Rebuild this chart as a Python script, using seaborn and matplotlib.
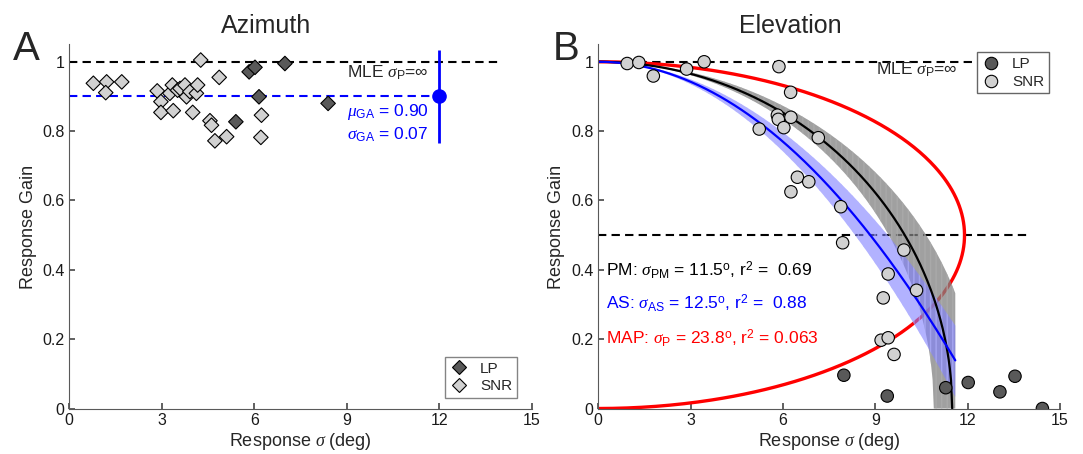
import numpy as np
import pandas as pd
import matplotlib
matplotlib.use("Agg")
import matplotlib.pyplot as plt
import seaborn as sns

# Azimuth data (response sigma in deg, response gain)
az_lp_x = [5.83, 6.02, 6.99, 6.15, 5.40, 8.39]
az_lp_y = [0.971, 0.984, 0.995, 0.899, 0.827, 0.880]
az_snr_x = [0.78, 1.21, 1.18, 1.70, 2.85, 2.97, 2.97, 3.26, 3.34, 3.37, 3.51, 3.59,
            3.75, 3.80, 3.91, 4.00, 4.12, 4.16, 4.26, 4.56, 4.61, 4.72, 4.86, 5.10,
            6.23, 6.21]
az_snr_y = [0.938, 0.942, 0.911, 0.942, 0.916, 0.885, 0.854, 0.909, 0.933, 0.859, 0.918, 0.923,
            0.933, 0.899, 0.914, 0.854, 0.909, 0.933, 1.005, 0.830, 0.817, 0.772, 0.955, 0.784,
            0.846, 0.782]
az_mean = 0.90
az_err = 0.135
az_mean_x = 12.0

# Elevation data
el_lp_x = [7.98, 9.39, 11.29, 12.02, 13.05, 13.54, 14.43]
el_lp_y = [0.096, 0.036, 0.060, 0.075, 0.048, 0.093, 0.0]
el_snr_x = [0.94, 1.32, 1.79, 2.87, 3.44, 5.87, 6.25, 5.82, 5.85, 6.26, 6.03, 5.23,
            7.15, 6.47, 6.84, 6.26, 7.88, 7.94, 9.93, 9.42, 10.34, 9.26, 9.19, 9.42, 9.61]
el_snr_y = [0.995, 0.998, 0.959, 0.979, 1.0, 0.986, 0.912, 0.846, 0.834, 0.840, 0.810, 0.806,
            0.781, 0.667, 0.654, 0.625, 0.582, 0.478, 0.457, 0.388, 0.341, 0.319, 0.197, 0.204, 0.156]

# model fit parameters (deg)
sig_pm, sig_pm_lo, sig_pm_hi = 11.5, 10.9, 12.3
sig_as, sig_as_lo, sig_as_hi = 12.5, 11.8, 13.3
sig_p = 23.8
band_end = 11.6

sns.set_theme(style="ticks")
plt.rcParams['font.family'] = ['Liberation Sans', 'DejaVu Sans']
plt.rcParams['mathtext.fontset'] = 'custom'
plt.rcParams['mathtext.rm'] = 'Liberation Sans'
plt.rcParams['mathtext.it'] = 'Liberation Serif:italic'
plt.rcParams['mathtext.sf'] = 'Liberation Sans'

fig = plt.figure(figsize=(10.83, 4.54), dpi=100)
axA = fig.add_axes([0.064, 0.1002, 0.4272, 0.8019])
axB = fig.add_axes([0.5524, 0.1002, 0.4263, 0.8019])

pal = {'LP': (0.35, 0.35, 0.35), 'SNR': (0.82, 0.82, 0.82)}
dash = (4, 2.5)

# ---- panel A
dfA = pd.DataFrame({
    'x': az_lp_x + az_snr_x,
    'y': az_lp_y + az_snr_y,
    'group': ['LP'] * len(az_lp_x) + ['SNR'] * len(az_snr_x),
})
axA.plot([0, 14], [1, 1], color='black', lw=1.5, dashes=dash, zorder=1)
axA.plot([0, az_mean_x], [az_mean, az_mean], color='blue', lw=1.5, dashes=dash, zorder=1)
sns.scatterplot(data=dfA, x='x', y='y', hue='group', hue_order=['LP', 'SNR'],
                palette=pal, marker='D', s=55, edgecolor='black', linewidth=0.8,
                ax=axA, zorder=3)
axA.errorbar([az_mean_x], [az_mean], yerr=[az_err], fmt='o', color='blue',
             ms=9.5, lw=2, capsize=0, zorder=4)
axA.text(9.0, 0.969, r'MLE $\sigma_\mathrm{P}$=$\infty$', fontsize=12.5, va='center')
axA.text(9.0, 0.856, r'$\mu_\mathrm{GA}$ = 0.90', fontsize=12.5, va='center', color='blue')
axA.text(9.0, 0.789, r'$\sigma_\mathrm{GA}$ = 0.07', fontsize=12.5, va='center', color='blue')
h, l = axA.get_legend_handles_labels()
axA.legend(h, l, loc='lower right', bbox_to_anchor=(0.967, 0.029), borderaxespad=0,
           frameon=True, fancybox=False, edgecolor='0.4', fontsize=11,
           handlelength=1.2, handletextpad=0.8, borderpad=0.3, labelspacing=0.25)
axA.set_title('Azimuth', fontsize=18, x=0.425, pad=8)
fig.text(0.012, 0.868, 'A', fontsize=29)

# ---- panel B
dfB = pd.DataFrame({
    'x': el_lp_x + el_snr_x,
    'y': el_lp_y + el_snr_y,
    'group': ['LP'] * len(el_lp_x) + ['SNR'] * len(el_snr_x),
})
axB.plot([0, 14], [1, 1], color='black', lw=1.5, dashes=dash, zorder=1)
axB.plot([0, 14], [0.5, 0.5], color='black', lw=1.5, dashes=dash, zorder=1)

# MAP curve
t = np.linspace(0, np.pi, 400)
g = (1 - np.cos(t)) / 2
axB.plot(sig_p * np.sqrt(g * (1 - g)), g, color='red', lw=2.4, zorder=1.5)

xs = np.linspace(0, band_end, 300)
pm_lo = np.sqrt(np.clip(1 - (xs / sig_pm_lo) ** 2, 0, None))
pm_hi = np.sqrt(np.clip(1 - (xs / sig_pm_hi) ** 2, 0, None))
axB.fill_between(xs, pm_lo, pm_hi, facecolor=(0.5, 0.5, 0.5), alpha=0.75,
                 hatch='|||', edgecolor=(0.68, 0.68, 0.68), linewidth=0, zorder=2)
as_lo = 1 - (xs / sig_as_lo) ** 2
as_hi = 1 - (xs / sig_as_hi) ** 2
axB.fill_between(xs, as_lo, as_hi, facecolor=(0.5, 0.5, 1.0), alpha=0.6,
                 hatch='|||', edgecolor=(0.7, 0.7, 1.0), linewidth=0, zorder=2)

xpm = np.linspace(0, sig_pm, 300)
sns.lineplot(x=xpm, y=np.sqrt(np.clip(1 - (xpm / sig_pm) ** 2, 0, None)),
             color='black', lw=1.6, ax=axB, zorder=2.5)
sns.lineplot(x=xs, y=1 - (xs / sig_as) ** 2, color='blue', lw=1.6, ax=axB, zorder=2.5)

sns.scatterplot(data=dfB, x='x', y='y', hue='group', hue_order=['LP', 'SNR'],
                palette=pal, marker='o', s=80, edgecolor='black', linewidth=0.8,
                ax=axB, zorder=3)
axB.text(9.02, 0.976, r'MLE $\sigma_\mathrm{P}$=$\infty$', fontsize=12.5, va='center')
axB.text(0.25, 0.40, r'PM: $\sigma_\mathrm{PM}$ = 11.5$^\mathrm{o}$, r$^2$ =  0.69',
         fontsize=12.5, va='center', color='black')
axB.text(0.25, 0.303, r'AS: $\sigma_\mathrm{AS}$ = 12.5$^\mathrm{o}$, r$^2$ =  0.88',
         fontsize=12.5, va='center', color='blue')
axB.text(0.25, 0.202, r'MAP: $\sigma_\mathrm{P}$ = 23.8$^\mathrm{o}$, r$^2$ = 0.063',
         fontsize=12.5, va='center', color='red')
h, l = axB.get_legend_handles_labels()
axB.legend(h, l, loc='upper right', bbox_to_anchor=(0.976, 0.978), borderaxespad=0,
           frameon=True, fancybox=False, edgecolor='0.4', fontsize=11, framealpha=1,
           handlelength=1.2, handletextpad=0.8, borderpad=0.3, labelspacing=0.25)
axB.set_title('Elevation', fontsize=18, x=0.415, pad=8)
fig.text(0.510, 0.868, 'B', fontsize=29)

for ax in (axA, axB):
    ax.set_xlim(0, 15)
    ax.set_ylim(0, 1.05)
    ax.set_xticks([0, 3, 6, 9, 12, 15])
    ax.set_yticks([0, 0.2, 0.4, 0.6, 0.8, 1.0])
    ax.set_yticklabels(['0', '0.2', '0.4', '0.6', '0.8', '1'])
    ax.set_xlabel(r'Response $\sigma$ (deg)', fontsize=13, labelpad=2)
    ax.set_ylabel('Response Gain', fontsize=13)
    ax.tick_params(direction='in', length=4, labelsize=11.5, color='0.3', labelcolor='0.1')
    for sp in ('top', 'right'):
        ax.spines[sp].set_visible(False)
    for sp in ('left', 'bottom'):
        ax.spines[sp].set_color('0.35')
        ax.spines[sp].set_linewidth(0.8)

fig.savefig('out.png', dpi=100)
